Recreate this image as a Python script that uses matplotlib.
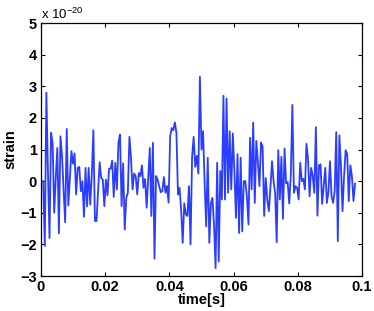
import numpy as np
import matplotlib
matplotlib.use('Agg')
import matplotlib.pyplot as plt

# strain samples in units of 1e-20 (2048 Hz)
fs = 2048.0
t0 = 0.0007
strain_e20 = [
    0.0, -2.05, 2.8, 0.3, -1.8, 1.53, 1.2, -1.0, 0.1, 1.05,
    -1.65, 1.42, 0.8, -0.3, -1.3, 1.65, -0.77, 0.1, 0.95, 0.55,
    0.88, -0.42, 0.42, 0.45, -0.32, 0.0, -1.13, 0.42, -0.8, 0.42,
    -0.74, 0.2, 1.61, -1.26, -1.26, -0.3, 0.6, 0.1, 0.05, -0.79,
    0.05, -0.45, 0.39, 0.39, 0.65, -0.5, 0.58, -0.26, 1.23, 1.47,
    -0.79, 0.56, -1.53, -0.53, -0.37, 1.4, 0.75, -0.26, 0.24, 0.16,
    -0.42, 0.26, 0.16, 0.5, -0.21, 0.07, -0.84, 0.1, 1.05, -1.1,
    1.21, -2.45, 0.16, 0.05, -0.16, -0.35, -0.32, 0.13, -0.37, -0.15,
    -0.68, 1.42, 1.68, 1.61, 1.86, 1.53, -0.42, -0.21, -0.9, -1.95,
    -0.7, -1.05, -1.1, -0.16, -2.0, 0.77, 1.4, 0.45, 0.8, 0.24,
    3.3, 1.0, 1.58, -0.05, -1.43, 0.74, -1.95, -0.69, -0.53, -1.4,
    -2.75, 0.58, -2.54, 0.32, -0.58, 2.7, -0.58, 2.61, -0.37, 1.58,
    -0.26, 1.51, 0.3, -1.16, 0.85, -1.64, 0.74, -1.59, 0.0, 0.0,
    -0.5, -1.37, 1.37, -0.26, 1.85, -0.69, 1.27, 0.6, -0.16, 1.22,
    1.1, -1.1, 0.1, -0.58, -0.95, -0.2, 0.63, 0.0, -0.37, -1.93,
    0.98, -0.58, 0.77, -1.19, 1.03, -0.07, -0.03, -0.71, 0.2, 2.41,
    -0.37, -0.16, -0.21, -0.58, 0.58, 0.0, 0.07, -0.26, 1.18, 0.69,
    -0.48, 0.42, 0.16, -0.37, 1.71, -1.09, 0.5, 0.53, -0.72, -0.14,
    0.42, -0.69, -0.35, 0.63, -0.48, -0.69, -0.32, 1.55, -1.9, 1.45,
    0.48, -0.95, 0.16, 0.98, 0.85, -0.63, 0.5, 0.16, -0.63, -0.08,
]
xticks = [0, 0.02, 0.04, 0.06, 0.08, 0.1]
xticklabels = ['0', '0.02', '0.04', '0.06', '0.08', '0.1']
yticks = [-3, -2, -1, 0, 1, 2, 3, 4, 5]

time = t0 + np.arange(len(strain_e20)) / fs

plt.rcParams['font.family'] = ['Liberation Sans', 'DejaVu Sans']
plt.rcParams['mathtext.fontset'] = 'custom'
plt.rcParams['mathtext.rm'] = 'Liberation Sans'

fig = plt.figure(figsize=(3.74, 3.11), dpi=100)
ax = fig.add_axes([0.1096, 0.1125, 0.858, 0.8135])
ax.plot(time, strain_e20, color='#2b3dff', linewidth=1.3)

ax.set_xlim(0, 0.1)
ax.set_ylim(-3, 5)
ax.set_xticks(xticks)
ax.set_xticklabels(xticklabels)
ax.set_yticks(yticks)
ax.tick_params(direction='in', top=True, right=True, length=3, width=0.8,
               labelsize=10.5, pad=3)
for lab in ax.get_xticklabels() + ax.get_yticklabels():
    lab.set_fontweight('bold')
for s in ax.spines.values():
    s.set_linewidth(0.9)

ax.set_xlabel('time[s]', fontsize=10.5, fontweight='bold', labelpad=-1)
ax.set_ylabel('strain', fontsize=10.5, fontweight='bold', labelpad=2)
ax.text(0.0, 1.005, r'x 10$^{-20}$', transform=ax.transAxes, fontsize=9.5,
        ha='left', va='bottom')

fig.savefig('out.png', dpi=100)
